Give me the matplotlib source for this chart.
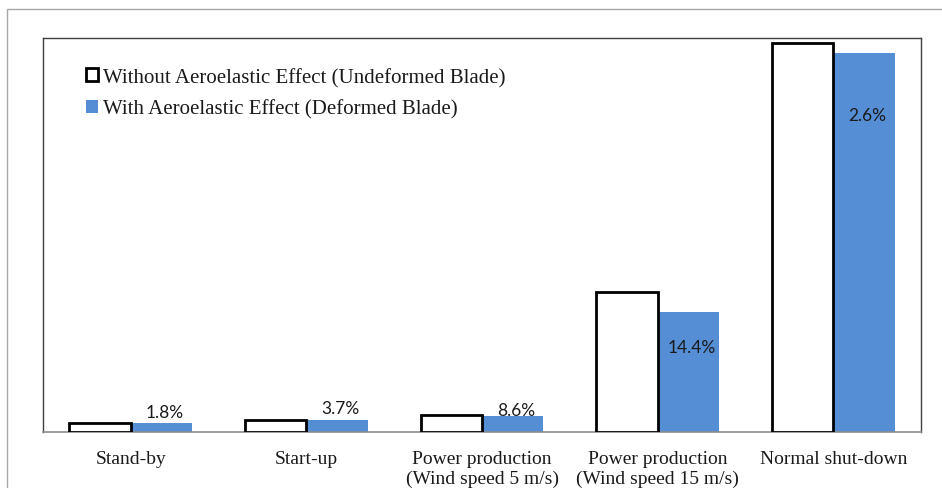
import matplotlib
matplotlib.use("Agg")
import matplotlib.pyplot as plt
from matplotlib.patches import Patch, Rectangle
import numpy as np

categories = ["Stand-by", "Start-up", "Power production\n(Wind speed 5 m/s)",
              "Power production\n(Wind speed 15 m/s)", "Normal shut-down"]
undeformed = [9.0, 12.0, 17.0, 140.0, 389.0]
reduction_pct = [1.8, 3.7, 8.6, 14.4, 2.6]
deformed = [u * (1 - p / 100.0) for u, p in zip(undeformed, reduction_pct)]
series_names = ["Without Aeroelastic Effect (Undeformed Blade)",
                "With Aeroelastic Effect (Deformed Blade)"]

blue = "#558ed5"
serif = ["Liberation Serif", "DejaVu Serif"]

fig = plt.figure(figsize=(9.42, 4.89), dpi=100)
fig.patch.set_facecolor("white")

# outer chart-area border
fig.add_artist(Rectangle((7 / 942, -0.05), 1.1, (489 - 10) / 489 + 0.05,
                         transform=fig.transFigure, fill=False,
                         edgecolor="#a6a6a6", linewidth=1.0))

ax = fig.add_axes([43 / 942, 56 / 489, 878 / 942, 394 / 489])
x = np.arange(len(categories))
w = 0.35
ax.bar(x - w / 2, undeformed, w, facecolor="white", edgecolor="black",
       linewidth=2.0, zorder=3)
ax.bar(x + w / 2, deformed, w, facecolor=blue, edgecolor="none", zorder=2)

ax.set_xlim(-0.5, len(categories) - 0.5)
ax.set_ylim(0, 394)
ax.set_yticks([])
ax.set_xticks(x)
ax.set_xticklabels(categories, family=serif, fontsize=14, color="#1a1a1a",
                   linespacing=1.2)
ax.tick_params(axis="x", length=0, pad=13)

for s in ["top", "left", "right"]:
    ax.spines[s].set_color("#404040")
    ax.spines[s].set_linewidth(1.0)
ax.spines["bottom"].set_color("#8c8c8c")
ax.spines["bottom"].set_linewidth(1.2)

# percentage labels on the deformed-blade bars
label_offsets = [11, 12, 6, -35, -62]
for xi, d, p, off in zip(x, deformed, reduction_pct, label_offsets):
    ax.text(xi + w / 2 + 0.02, d + off, f"{p}%", ha="center", va="center",
            fontsize=12.5, family=["Lato", "DejaVu Sans"], color="#1a1a1a",
            zorder=4)

handles = [Patch(facecolor="white", edgecolor="black", linewidth=2.0),
           Patch(facecolor=blue, edgecolor="none")]
leg = ax.legend(handles, series_names, loc="upper left",
                bbox_to_anchor=(67 / 942, 1 - 50 / 489), bbox_transform=fig.transFigure,
                frameon=False, handlelength=0.6, handleheight=0.6,
                handletextpad=0.25, labelspacing=0.58,
                prop={"family": serif, "size": 15})
for t in leg.get_texts():
    t.set_color("#1a1a1a")

fig.savefig("out.png", dpi=100, facecolor="white")
